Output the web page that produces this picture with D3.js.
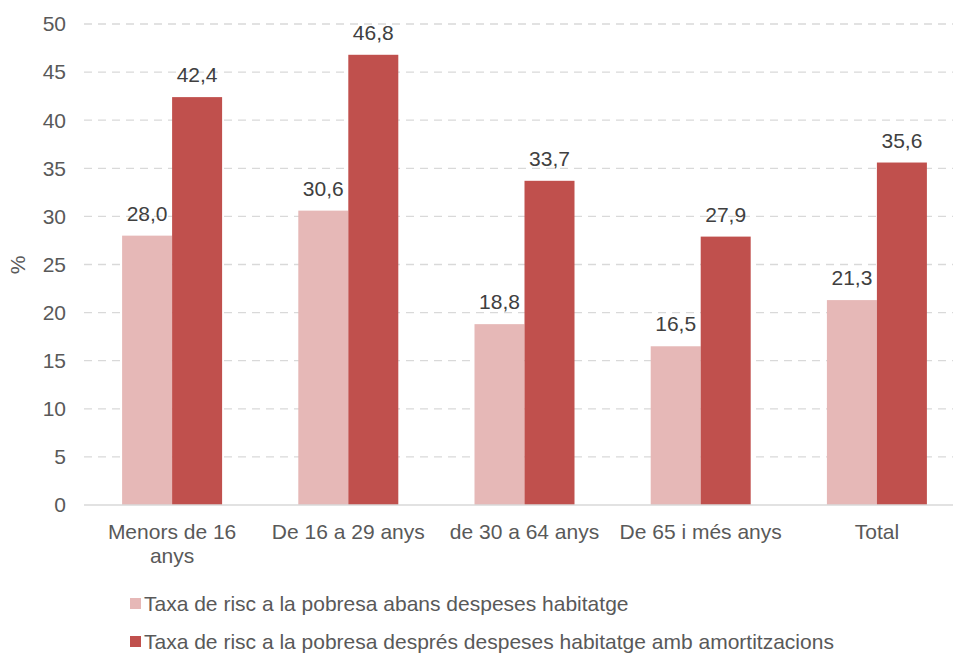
<!DOCTYPE html>
<html><head><meta charset="utf-8">
<script src="https://cdn.jsdelivr.net/npm/d3@7"></script>
<style>
html,body{margin:0;padding:0;background:#fff;}
svg{display:block;font-family:"Liberation Sans",Arial,sans-serif;}
</style></head>
<body><svg id="c" width="953" height="655"></svg>
<script>
const categories = ["Menors de 16 anys","De 16 a 29 anys","de 30 a 64 anys","De 65 i més anys","Total"];
const seriesNames = ["Taxa de risc a la pobresa abans despeses habitatge","Taxa de risc a la pobresa després despeses habitatge amb amortitzacions"];
const abans = [28.0,30.6,18.8,16.5,21.3];
const despres = [42.4,46.8,33.7,27.9,35.6];
const yTicks = [0,5,10,15,20,25,30,35,40,45,50];
const colors = ["#E6B8B7","#C0504D"];
const yLabel = "%";

const FS = 21;
const svg = d3.select("#c");
const fmt = v => d3.format(".1f")(v).replace(".", ",");
const x = d3.scaleBand().domain(categories).range([84,965]).paddingInner(0).paddingOuter(0);
const x1 = d3.scaleBand().domain([0,1]).range([0,100]);
const y = d3.scaleLinear().domain([0,50]).range([505,24]);
const groupOff = (x.bandwidth()-100)/2;

// grid
svg.append("g").selectAll("line").data(yTicks.filter(d=>d>0)).join("line")
  .attr("x1",84).attr("x2",953).attr("y1",d=>y(d)).attr("y2",d=>y(d))
  .attr("stroke","#d9d9d9").attr("stroke-width",1.3).attr("stroke-dasharray","8,6");

// y tick labels
svg.append("g").selectAll("text").data(yTicks).join("text")
  .attr("x",66).attr("y",d=>y(d)).attr("dy","0.35em").attr("text-anchor","end")
  .attr("font-size",FS).attr("fill","#595959").text(d=>d);

// y label
svg.append("text").attr("transform","translate(25,265) rotate(-90)")
  .attr("text-anchor","middle").attr("font-size",FS).attr("fill","#595959").text(yLabel);

const series = [abans, despres];
series.forEach((vals,si)=>{
  const g = svg.append("g");
  g.selectAll("rect").data(vals).join("rect")
    .attr("x",(d,i)=>x(categories[i])+groupOff+x1(si))
    .attr("width",x1.bandwidth())
    .attr("y",d=>y(d)).attr("height",d=>y(0)-y(d))
    .attr("fill",colors[si]);
  g.selectAll("text").data(vals).join("text")
    .attr("x",(d,i)=>x(categories[i])+groupOff+x1(si)+x1.bandwidth()/2)
    .attr("y",d=>y(d)-15).attr("text-anchor","middle")
    .attr("font-size",FS).attr("fill","#404040").text(d=>fmt(d));
});

// baseline
svg.append("line").attr("x1",84).attr("x2",953).attr("y1",y(0)).attr("y2",y(0))
  .attr("stroke","#d9d9d9").attr("stroke-width",1.5);

// category labels with wrapping
const cg = svg.append("g");
categories.forEach(c=>{
  const cx = x(c)+x.bandwidth()/2;
  const t = cg.append("text").attr("x",cx).attr("y",539).attr("text-anchor","middle")
    .attr("font-size",FS).attr("fill","#595959");
  const words = c.split(" ");
  let line = [], lineNo = 0;
  let ts = t.append("tspan").attr("x",cx).attr("y",539);
  words.forEach(w=>{
    line.push(w);
    ts.text(line.join(" "));
    if (ts.node().getComputedTextLength() > 168 && line.length>1) {
      line.pop(); ts.text(line.join(" "));
      line=[w]; lineNo++;
      ts = t.append("tspan").attr("x",cx).attr("y",539+lineNo*24).text(w);
    }
  });
});

// legend
const lg = svg.append("g");
seriesNames.forEach((n,i)=>{
  const yy = 604 + i*38;
  lg.append("rect").attr("x",130).attr("y",yy-6).attr("width",11).attr("height",11).attr("fill",colors[i]);
  lg.append("text").attr("x",144).attr("y",yy).attr("dy","0.35em").attr("font-size",FS)
    .attr("fill","#595959").text(n);
});
</script></body></html>
